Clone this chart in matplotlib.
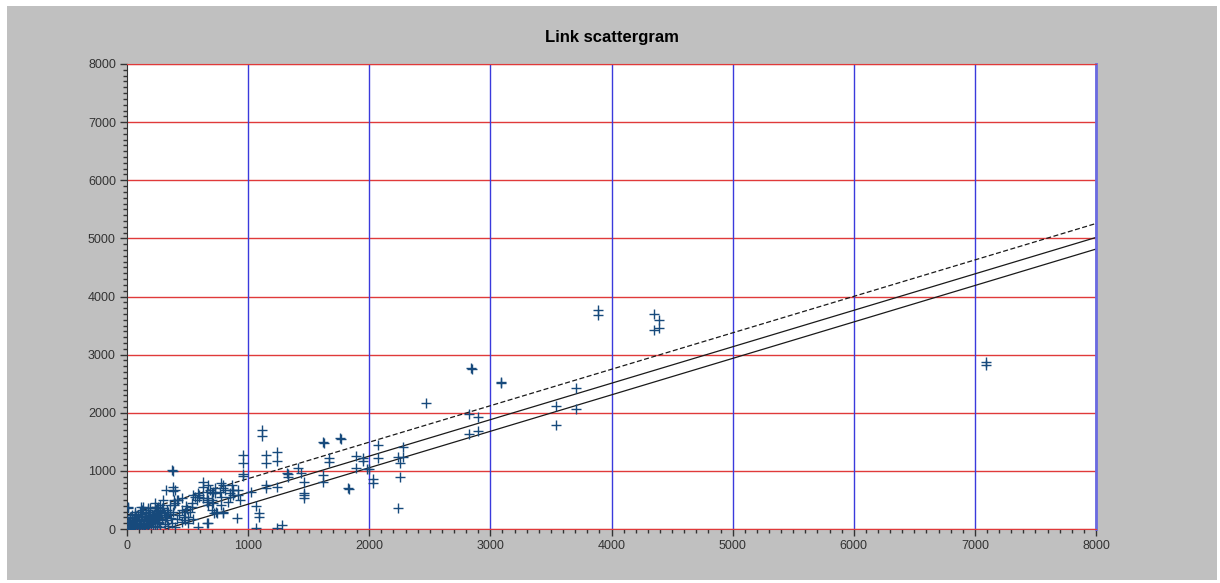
import matplotlib
matplotlib.use("Agg")
from matplotlib import pyplot as plt
from matplotlib.patches import Rectangle
from matplotlib.ticker import MultipleLocator

# observed counts (x) against modelled flows (y)
count_x = [
    7090, 7090, 4350, 4390, 4350, 4390, 3890, 3890, 3090, 3090,
    2840, 2850, 2470, 2824, 2895, 2824, 2895, 3545, 3545, 3705, 3705,
    2070, 2070, 2276, 2276, 2235, 2254, 2254, 2235, 2034, 2034, 2001, 1985,
    1891, 1891, 1946, 1946, 1822, 1830, 1759, 1770, 1621, 1630, 1670, 1670,
    1621, 1621, 1464, 1464, 1464, 1464, 1414, 1437, 1318, 1327, 1327,
    1236, 1236, 1148, 1148, 1117, 1117, 960, 960, 960, 960,
    1148, 1148, 1236, 1024, 1065, 1092, 1092, 1277, 1236, 1062, 905,
    369, 380, 382, 382, 625, 625,
    451, 487, 534, 575, 547, 597, 597, 658, 658, 699, 712, 735, 658, 727,
    727, 768, 790, 790, 850, 850, 878, 878, 837, 795, 718, 589, 506, 479,
    391, 391, 322, 300, 300, 272, 245, 217, 217, 176, 130, 107, 11, 11,
    671, 776, 809, 864, 864, 914, 914, 933, 776, 776, 699, 699, 740, 795,
    671, 671, 712, 671, 396, 424, 451, 561, 589, 534, 506, 479, 630, 658,
    685, 341, 314, 286, 231, 258, 176, 121, 66, 39, 116, 190, 231, 272,
    396, 410, 355, 327,
    5, 12, 16, 22, 24, 31, 36, 41, 44, 52, 57, 61, 66, 72, 74, 81, 86, 92,
    96, 101, 106, 112, 117, 121, 126, 131, 137, 142, 146, 151, 157, 161,
    166, 172, 176, 181, 187, 192, 196, 201, 207, 211, 216, 222, 226, 232,
    236, 241, 246, 252, 257, 262, 267, 271, 276, 282, 291, 302, 311, 322,
    331, 342, 352, 361, 371, 382, 394, 412, 432, 452, 471, 492, 522, 548,
    28, 47, 63, 84, 98, 133, 154, 178, 204, 228, 248, 268, 8, 18, 55, 108,
]
model_y = [
    2870, 2830, 3700, 3600, 3430, 3460, 3770, 3690, 2530, 2510,
    2770, 2750, 2170, 1980, 1930, 1635, 1690, 2120, 1790, 2420, 2065,
    1445, 1216, 1416, 1233, 1244, 1130, 900, 366, 855, 797, 1027, 1030,
    1256, 1055, 1227, 1170, 705, 695, 1565, 1545, 1490, 1480, 1216, 1160,
    930, 814, 814, 625, 585, 538, 1044, 958, 958, 946, 900,
    1330, 1175, 1273, 1141, 1700, 1600, 1273, 1141, 940, 920,
    757, 700, 716, 642, 396, 270, 212, 69, 17, 12, 183,
    1010, 990, 728, 654, 814, 728,
    528, 396, 442, 499, 585, 585, 556, 642, 528, 614, 442, 298, 109, 700,
    614, 642, 757, 700, 614, 556, 671, 585, 470, 298, 270, 40, 98, 298,
    499, 413, 671, 499, 356, 298, 356, 241, 183, 327, 384, 298, 384, 356,
    757, 786, 671, 757, 671, 671, 585, 499, 556, 413, 499, 327, 270, 281,
    413, 499, 642, 98, 442, 499, 327, 556, 614, 384, 212, 155, 528, 470,
    671, 298, 241, 356, 442, 384, 356, 327, 298, 241, 384, 356, 384, 413,
    671, 499, 413, 327,
    20, 60, 110, 30, 150, 80, 10, 120, 190, 50, 90, 160, 20, 210, 130, 60,
    100, 240, 30, 170, 80, 130, 200, 40, 250, 110, 160, 70, 220, 20, 280,
    140, 90, 190, 50, 240, 120, 300, 170, 80, 210, 140, 30, 260, 180, 100,
    310, 220, 60, 150, 270, 200, 120, 330, 40, 240, 170, 280, 90, 200,
    150, 60, 250, 190, 110, 300, 30, 170, 240, 120, 210, 350, 290, 180,
    200, 130, 250, 180, 60, 90, 230, 140, 120, 60, 200, 100, 140, 5, 70, 15,
]

# reference lines: slope and offsets (upper dashed, mid, lower)
line_x = [0, 8000]
line_slope = 0.627
line_offsets = [240, 0, -200]

fig = plt.figure(figsize=(12.2, 5.83), dpi=100, facecolor="white")
fig.patches.append(Rectangle((7 / 1220, 3 / 583), 1210 / 1220, 574 / 583,
                             transform=fig.transFigure, facecolor="#c0c0c0",
                             edgecolor="none", zorder=-10))
ax = fig.add_axes([127 / 1220, 54 / 583, 969 / 1220, 465 / 583])
ax.set_facecolor("white")

for yv in range(1000, 8001, 1000):
    ax.axhline(yv, color="#e03a3a", lw=1.0, zorder=1)
for xv in range(1000, 8001, 1000):
    ax.axvline(xv, color="#3a3adc", lw=1.0, zorder=1)
ax.axhline(0, color="#e03a3a", lw=1.0, zorder=1)

styles = ["--", "-", "-"]
for off, ls in zip(line_offsets, styles):
    ys = [line_slope * x + off for x in line_x]
    if ls == "--":
        ax.plot(line_x, ys, ls=ls, color="#1a1a1a", lw=0.9, zorder=2, dashes=(4, 2))
    else:
        ax.plot(line_x, ys, ls=ls, color="#1a1a1a", lw=0.9, zorder=2)

ax.plot(count_x, model_y, ls="none", marker="+", ms=7, mew=1.0,
        color="#174a7c", zorder=3)

ax.set_xlim(0, 8000)
ax.set_ylim(0, 8000)
ax.xaxis.set_major_locator(MultipleLocator(1000))
ax.yaxis.set_major_locator(MultipleLocator(1000))
ax.xaxis.set_minor_locator(MultipleLocator(100))
ax.yaxis.set_minor_locator(MultipleLocator(100))
ax.tick_params(which="major", length=5, width=1, color="#333333",
               labelsize=9, labelcolor="#333333", pad=3)
ax.tick_params(which="minor", length=3, width=1, color="#333333")
for lab in ax.get_xticklabels() + ax.get_yticklabels():
    lab.set_fontfamily("Liberation Sans")

ax.spines["left"].set_color("#333333")
ax.spines["bottom"].set_color("#e03a3a")
ax.spines["top"].set_color("#e03a3a")
ax.spines["right"].set_color("#6a6ae0")
ax.spines["right"].set_linewidth(2)

ax.set_title("Link scattergram", fontsize=12, fontweight="bold",
             family="Liberation Sans", pad=16)

fig.savefig("out.png", dpi=100, facecolor=fig.get_facecolor())
